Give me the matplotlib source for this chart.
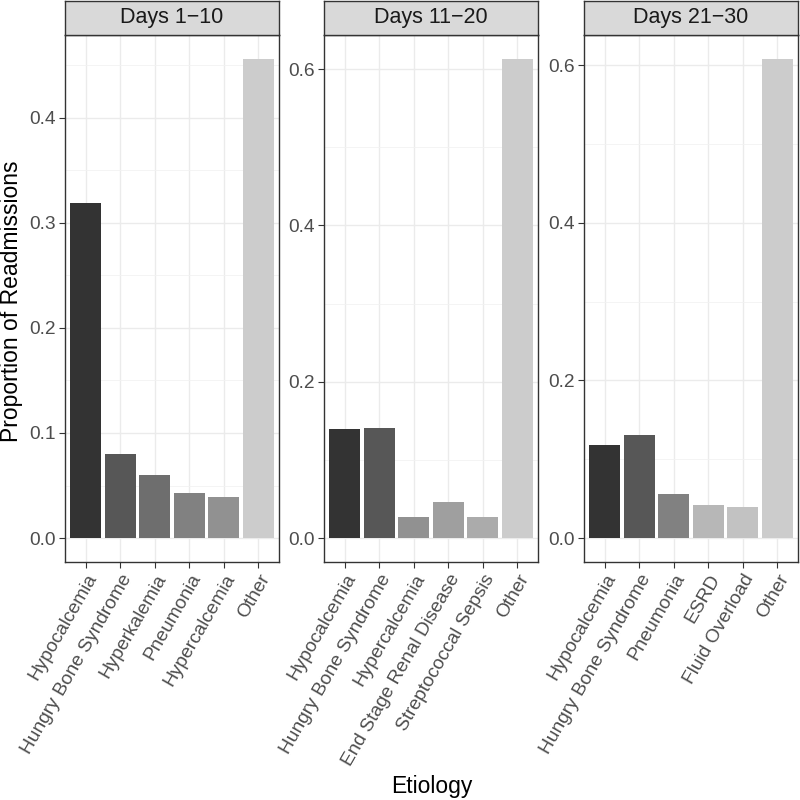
import matplotlib
matplotlib.use("Agg")
import matplotlib.pyplot as plt
import numpy as np
from matplotlib.ticker import MultipleLocator

plt.rcParams['font.family'] = ['Liberation Sans', 'DejaVu Sans']

panels = ["Days 1\u221210", "Days 11\u221220", "Days 21\u221230"]
cats_1 = ["Hypocalcemia", "Hungry Bone Syndrome", "Hyperkalemia", "Pneumonia", "Hypercalcemia", "Other"]
vals_1 = [0.319, 0.080, 0.060, 0.043, 0.039, 0.456]
cats_2 = ["Hypocalcemia", "Hungry Bone Syndrome", "Hypercalcemia", "End Stage Renal Disease", "Streptococcal Sepsis", "Other"]
vals_2 = [0.140, 0.141, 0.027, 0.046, 0.027, 0.613]
cats_3 = ["Hypocalcemia", "Hungry Bone Syndrome", "Pneumonia", "ESRD", "Fluid Overload", "Other"]
vals_3 = [0.118, 0.131, 0.056, 0.042, 0.039, 0.608]

levels = ["Hypocalcemia", "Hungry Bone Syndrome", "Hyperkalemia", "Pneumonia", "Hypercalcemia",
          "End Stage Renal Disease", "Streptococcal Sepsis", "ESRD", "Fluid Overload", "Other"]
greys = ["#333333", "#575757", "#6e6e6e", "#818181", "#919191",
         "#9f9f9f", "#ababab", "#b7b7b7", "#c2c2c2", "#cccccc"]
color_of = dict(zip(levels, greys))

data = [(cats_1, vals_1, 0.1), (cats_2, vals_2, 0.2), (cats_3, vals_3, 0.2)]

fig = plt.figure(figsize=(8, 8), dpi=100)
lefts = [65, 324, 584]
W = 214
top_px, bot_px = 35, 562
strip_top = 1
TICK_FS = 13.8

for i, (cats, vals, step) in enumerate(data):
    l = lefts[i] / 800
    ax = fig.add_axes([l, 1 - bot_px / 800, W / 800, (bot_px - top_px) / 800])
    x = np.arange(1, len(cats) + 1)
    ax.bar(x, vals, width=0.9, color=[color_of[c] for c in cats], zorder=3)
    vmax = max(vals)
    ax.set_ylim(-0.05 * vmax, vmax * 1.05)
    ax.set_xlim(0.4, len(cats) + 0.6)
    ax.yaxis.set_major_locator(MultipleLocator(step))
    ax.yaxis.set_minor_locator(MultipleLocator(step / 2))
    ax.yaxis.set_major_formatter(matplotlib.ticker.FormatStrFormatter('%.1f'))
    ax.set_xticks(x)
    ax.set_xticklabels(cats, rotation=60, ha='right', va='top', rotation_mode='anchor',
                       fontsize=TICK_FS, color='#4d4d4d')
    ax.tick_params(axis='y', labelsize=TICK_FS, labelcolor='#4d4d4d', color='#333333', length=4, width=0.8, pad=2.5)
    ax.tick_params(axis='x', color='#333333', length=4, width=0.8, pad=2.5)
    ax.tick_params(axis='y', which='minor', length=0)
    ax.grid(True, which='major', color='#ebebeb', linewidth=1.0, zorder=0)
    ax.grid(True, which='minor', axis='y', color='#f2f2f2', linewidth=0.6, zorder=0)
    ax.set_axisbelow(True)
    for s in ax.spines.values():
        s.set_color('#333333')
        s.set_linewidth(1.0)
    # strip
    sax = fig.add_axes([l, 1 - top_px / 800, W / 800, (top_px - strip_top) / 800])
    sax.set_facecolor('#d9d9d9')
    sax.set_xticks([]); sax.set_yticks([])
    for s in sax.spines.values():
        s.set_color('#333333')
        s.set_linewidth(1.0)
    sax.text(0.5, 0.5, panels[i], ha='center', va='center', fontsize=15.5, color='#1a1a1a',
             transform=sax.transAxes)

fig.text(12 / 800, 1 - 301 / 800, "Proportion of Readmissions", rotation=90, ha='center', va='center',
         fontsize=16.5, color='black')
fig.text(432 / 800, 1 - 786 / 800, "Etiology", ha='center', va='center', fontsize=16.5, color='black')

fig.savefig("out.png", dpi=100)
